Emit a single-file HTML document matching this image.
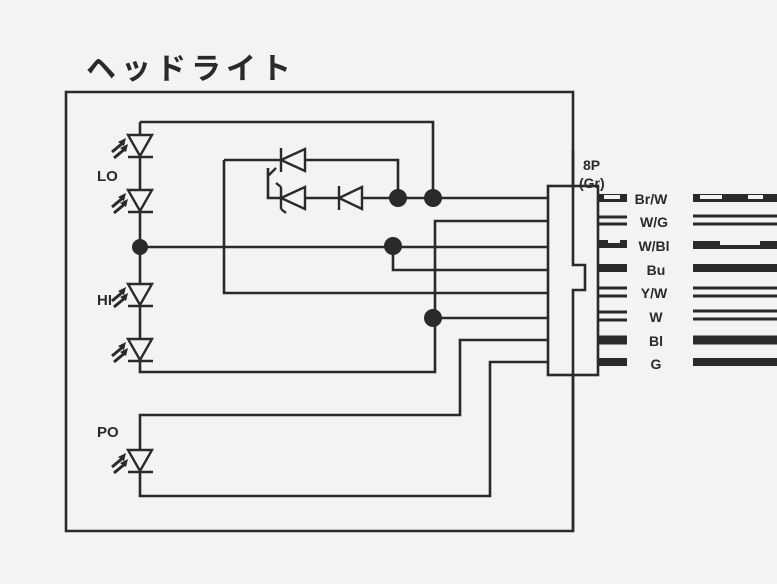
<!DOCTYPE html>
<html><head><meta charset="utf-8"><style>
body{margin:0;background:#f3f3f1;}
svg{display:block}
text{font-family:"Liberation Sans","Noto Sans CJK JP",sans-serif;fill:#2a2a2a;font-weight:bold}
</style></head><body>
<svg width="777" height="584" viewBox="0 0 777 584" xmlns="http://www.w3.org/2000/svg">
<rect width="777" height="584" fill="#f3f3f1"/>
<text x="86" y="79" font-size="30" font-family="Noto Sans CJK JP" letter-spacing="5">ヘッドライト</text>
<g stroke="#2a2a2a" stroke-width="2.6" fill="none">
<path d="M66 92 H573 V531 H66 Z"/>
<path d="M140 122 H433 V198"/>
<path d="M140 122 V372 H435 V221 H548"/>
<path d="M224 160 V293 H548"/>
<path d="M224 160 H305 M305 160 H398 V198"/>
<path d="M268 168 V198 H548"/>
<path d="M140 247 H548"/>
<path d="M393 247 V270 H548"/>
<path d="M435 318 H548"/>
<path d="M548 340 H460 V415 H140 V496 H490 V362 H548"/>
<rect x="548" y="186" width="50" height="189" fill="#f3f3f1"/>
<path d="M573 150 V265 H585 V290 H573 V531"/>
</g>
<g stroke="#2a2a2a" stroke-width="2.4" fill="#f3f3f1">
<g id="led"><path d="M128 135 H152 L140 156 Z"/><path d="M128 157 H153"/></g>
<use href="#led" y="55"/><use href="#led" y="149"/><use href="#led" y="204"/><use href="#led" y="315"/>
<path d="M305 149 V171 L281 160 Z"/><path d="M281 148 V172 M276 168 L268 176"/>
<path d="M305 187 V209 L281 198 Z"/><path d="M281 187 V209 M281 187 L276 183 M281 209 L286 213"/>
<path d="M362 187 V209 L339 198 Z"/><path d="M339 186 V210"/>
</g>
<g fill="#2a2a2a">
<g id="arr"><path d="M112 152 L124 142 M114 158 L126 148" stroke="#2a2a2a" stroke-width="3"/><path d="M126 138 L118 142 L124 146 Z M128 144 L120 148 L126 152 Z"/></g>
<use href="#arr" y="55"/><use href="#arr" y="149"/><use href="#arr" y="204"/><use href="#arr" y="315"/>
<circle cx="140" cy="247" r="8"/><circle cx="398" cy="198" r="9"/><circle cx="433" cy="198" r="9"/>
<circle cx="393" cy="246" r="9"/><circle cx="433" cy="318" r="9"/>
</g>
<text x="97" y="181" font-size="15">LO</text>
<text x="97" y="305" font-size="15">HI</text>
<text x="97" y="437" font-size="15">PO</text>
<text x="583" y="170" font-size="14">8P</text>
<text x="579" y="188" font-size="14">(Gr)</text>
<g font-size="14" text-anchor="middle">
<text x="651" y="204">Br/W</text><text x="654" y="227">W/G</text><text x="654" y="251">W/Bl</text>
<text x="656" y="275">Bu</text><text x="654" y="298">Y/W</text><text x="656" y="322">W</text>
<text x="656" y="346">Bl</text><text x="656" y="369">G</text>
</g>
<g stroke="#2a2a2a">
<path d="M599 198 H627 M693 198 H777" stroke-width="8"/>
<path d="M604 197 H620 M700 197 H722 M748 197 H763" stroke="#f3f3f1" stroke-width="4"/>
<path d="M599 217 H627 M599 224 H627 M693 216 H777 M693 224 H777" stroke-width="3"/>
<path d="M599 244 H627 M693 245 H777" stroke-width="8"/>
<path d="M608 241 H620 M720 243 H760" stroke="#f3f3f1" stroke-width="4"/>
<path d="M599 268 H627 M693 268 H777" stroke-width="8"/>
<path d="M599 288 H627 M599 296 H627 M693 288 H777 M693 296 H777" stroke-width="3"/>
<path d="M599 312 H627 M599 320 H627 M693 311 H777 M693 319 H777" stroke-width="3"/>
<path d="M599 340 H627 M693 340 H777" stroke-width="9"/>
<path d="M599 362 H627 M693 362 H777" stroke-width="8"/>
</g>
</svg>
</body></html>
